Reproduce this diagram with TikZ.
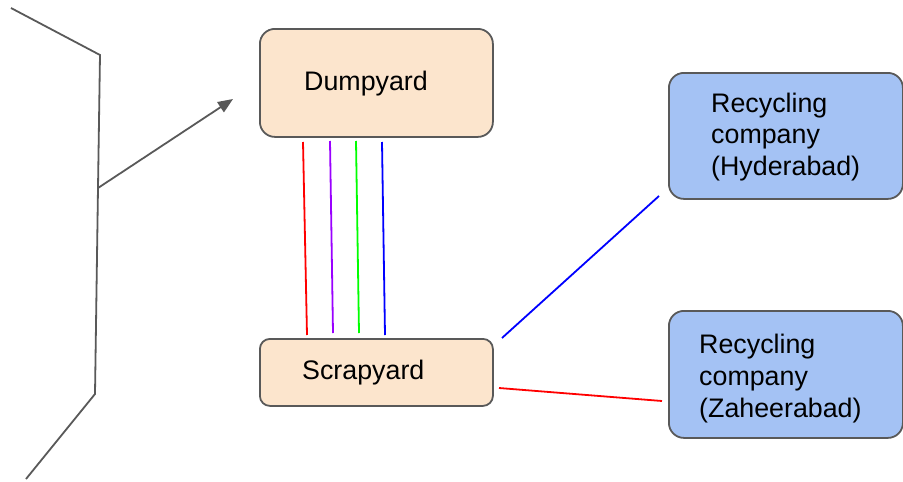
\documentclass[tikz,border=0pt]{standalone}
\usepackage{fontspec}
\setmainfont{Liberation Sans}
\usetikzlibrary{arrows.meta}
\definecolor{edgegray}{HTML}{595959}
\definecolor{peach}{HTML}{FCE5CD}
\definecolor{lightblue}{HTML}{A4C2F4}
\definecolor{cred}{HTML}{FF0000}
\definecolor{cpurple}{HTML}{9900FF}
\definecolor{cgreen}{HTML}{00FF00}
\definecolor{cblue}{HTML}{0000FF}
\tikzset{
  box/.style={draw=edgegray, line width=1.8pt, rounded corners=15pt, inner sep=0pt, anchor=north west},
  peachbox/.style={box, fill=peach},
  bluebox/.style={box, fill=lightblue},
  lbl/.style={inner sep=0pt, anchor=base west, font=\fontsize{26.8}{31}\selectfont, text=black},
  wire/.style={line width=1.8pt},
  grayline/.style={draw=edgegray, line width=1.8pt, line join=miter},
}
\begin{document}
\begin{tikzpicture}[x=1pt, y=-1pt]
\useasboundingbox (0,0) rectangle (903,482);
% boxes
\node[peachbox, minimum width=233pt, minimum height=108pt] (dump) at (259,28) {};
\node[peachbox, minimum width=233pt, minimum height=67pt, rounded corners=10pt] (scrap) at (259,338) {};
\node[bluebox, minimum width=234pt, minimum height=126pt] (hyd) at (668,72) {};
\node[bluebox, minimum width=234pt, minimum height=127pt] (zah) at (668,310) {};
% labels
\node[lbl] (dumptxt) at (304,90) {Dumpyard};
\node[lbl] (scraptxt) at (302,379) {Scrapyard};
\node[lbl] (hyd1) at (711,112) {Recycling};
\node[lbl] (hyd2) at (711,143) {company};
\node[lbl] (hyd3) at (711,175) {(Hyderabad)};
\node[lbl] (zah1) at (699,353) {Recycling};
\node[lbl] (zah2) at (699,385) {company};
\node[lbl] (zah3) at (699,417) {(Zaheerabad)};
% connector end points
\coordinate (rt) at (303,142); \coordinate (rb) at (307,335);
\coordinate (pt) at (330,141); \coordinate (pb) at (333,333);
\coordinate (gt) at (356,141); \coordinate (gb) at (359,333);
\coordinate (bt) at (382,142); \coordinate (bb) at (385,335);
\coordinate (bl1) at (502,338); \coordinate (bl2) at (659,196);
\coordinate (rl1) at (499,388); \coordinate (rl2) at (662,401);
\draw[wire, cred] (rt) -- (rb);
\draw[wire, cpurple] (pt) -- (pb);
\draw[wire, cgreen] (gt) -- (gb);
\draw[wire, cblue] (bt) -- (bb);
\draw[wire, cblue] (bl1) -- (bl2);
\draw[wire, cred] (rl1) -- (rl2);
% gray path
\coordinate (g1) at (11,8);
\coordinate (g2) at (100,55);
\coordinate (g3) at (98,188);
\coordinate (g4) at (95,394);
\coordinate (g5) at (26,479);
\coordinate (arrtip) at (233,99);
\draw[grayline] (g1) -- (g2) -- (g3) -- (g4) -- (g5);
\draw[grayline, -{Triangle[length=15pt,width=12pt]}] (g3) -- (arrtip);
\end{tikzpicture}
\end{document}
